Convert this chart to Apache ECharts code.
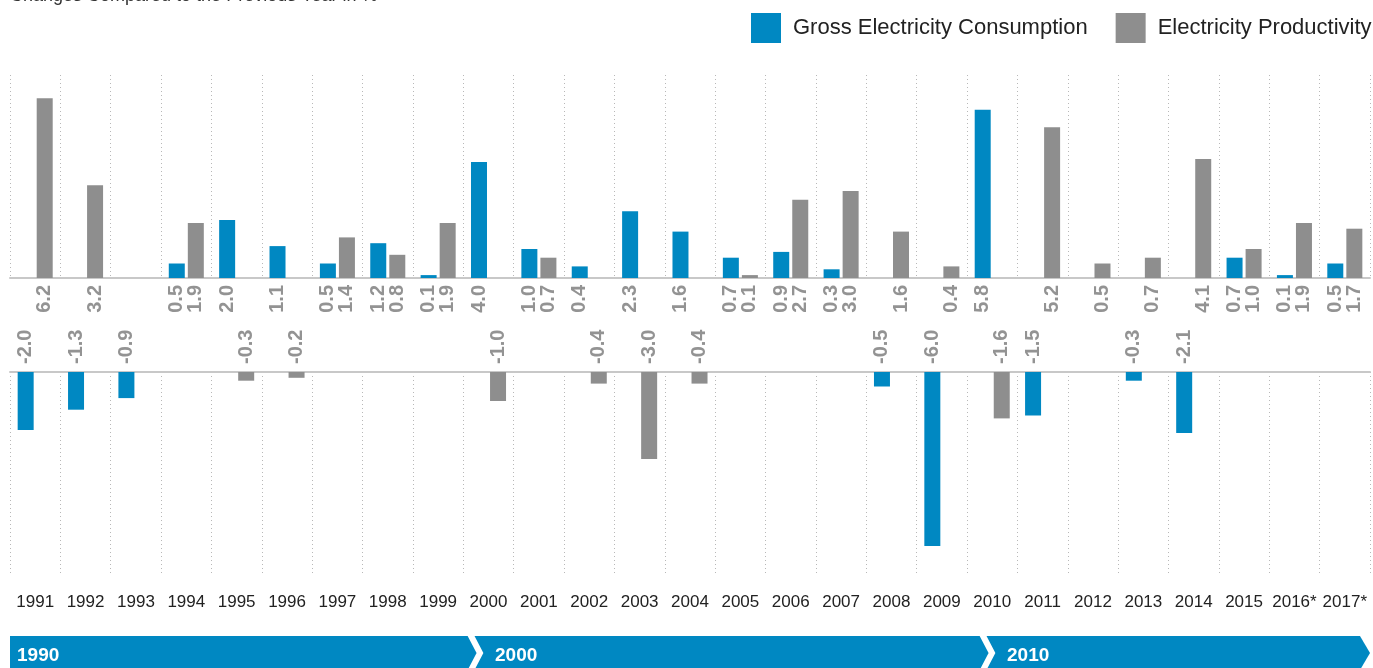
<!DOCTYPE html>
<html>
<head>
<meta charset="utf-8">
<title>Electricity Consumption and Productivity</title>
<script src="https://cdn.jsdelivr.net/npm/echarts@6/dist/echarts.min.js"></script>
<style>
  html, body { margin: 0; padding: 0; background: #fff; }
  #chart { width: 1373px; height: 668px; }
</style>
</head>
<body>
<div id="chart"></div>
<script>
// Year-on-year change in %, per year
const years = ['1991', '1992', '1993', '1994', '1995', '1996', '1997', '1998', '1999', '2000',
  '2001', '2002', '2003', '2004', '2005', '2006', '2007', '2008', '2009', '2010',
  '2011', '2012', '2013', '2014', '2015', '2016*', '2017*'];
const consumption = [-2.0, -1.3, -0.9, 0.5, 2.0, 1.1, 0.5, 1.2, 0.1, 4.0,
  1.0, 0.4, 2.3, 1.6, 0.7, 0.9, 0.3, -0.5, -6.0, 5.8,
  -1.5, null, -0.3, -2.1, 0.7, 0.1, 0.5];
const productivity = [6.2, 3.2, null, 1.9, -0.3, -0.2, 1.4, 0.8, 1.9, -1.0,
  0.7, -0.4, -3.0, -0.4, 0.1, 2.7, 3.0, 1.6, 0.4, -1.6,
  5.2, 0.5, 0.7, 4.1, 1.0, 1.9, 1.7];
const decades = ['1990', '2000', '2010'];
const titleText = 'Changes Compared to the Previous Year in %';
const seriesNames = ['Gross Electricity Consumption', 'Electricity Productivity'];

const BLUE = '#0088c2';
const GREY = '#8e8e8e';
const LABEL_GREY = '#939393';
const FONT = "'Liberation Sans', Arial, Helvetica, sans-serif";

const positives = arr => arr.map(v => (v != null && v > 0 ? v : null));
const negatives = arr => arr.map(v => (v != null && v < 0 ? v : null));

const valueLabel = (position, distance, align) => ({
  show: true,
  position: position,
  distance: distance,
  rotate: 90,
  align: align,
  verticalAlign: 'middle',
  color: LABEL_GREY,
  fontFamily: FONT,
  fontWeight: 'bold',
  fontSize: 20,
  formatter: p => Number(p.value).toFixed(1)
});

const dotted = { show: true, lineStyle: { color: '#b8b8b8', type: [1, 3], width: 1 } };
const baseLine = { show: true, lineStyle: { color: '#c8c8c8', width: 2 } };

function barSeries(name, color, data, xIdx, yIdx, label) {
  return {
    name: name,
    type: 'bar',
    xAxisIndex: xIdx,
    yAxisIndex: yIdx,
    data: data,
    barWidth: 16,
    barGap: '19%',
    itemStyle: { color: color },
    label: label,
    emphasis: { disabled: true },
    animation: false
  };
}

const chart = echarts.init(document.getElementById('chart'), null, { renderer: 'canvas' });

const option = {
  animation: false,
  title: {
    text: titleText,
    left: 10,
    top: -13,
    padding: 0,
    textStyle: { fontFamily: FONT, fontSize: 18, fontWeight: 'normal', color: '#333' }
  },
  legend: {
    data: seriesNames,
    left: 751,
    top: 13,
    padding: 0,
    itemWidth: 30,
    itemHeight: 30,
    itemGap: 28,
    icon: 'rect',
    selectedMode: false,
    textStyle: { fontFamily: FONT, fontSize: 22, color: '#222', padding: [4, 0, 0, 7] }
  },
  grid: [
    { left: 10, right: 3, top: 75, height: 203 },
    { left: 10, right: 3, top: 372, height: 203 }
  ],
  xAxis: [
    {
      type: 'category', gridIndex: 0, data: years, position: 'bottom',
      axisLine: baseLine, axisTick: { show: false }, axisLabel: { show: false },
      splitLine: dotted
    },
    {
      type: 'category', gridIndex: 1, data: years, position: 'top',
      axisLine: baseLine, axisTick: { show: false }, axisLabel: { show: false },
      splitLine: dotted
    },
    {
      type: 'category', gridIndex: 1, data: years, position: 'bottom',
      axisLine: { show: false, onZero: false }, axisTick: { show: false },
      axisLabel: { show: true, interval: 0, margin: 19, color: '#222', fontFamily: FONT, fontSize: 17 },
      splitLine: { show: false }
    }
  ],
  yAxis: [
    { type: 'value', gridIndex: 0, min: 0, max: 7, show: false, splitLine: { show: false } },
    { type: 'value', gridIndex: 1, min: -7, max: 0, show: false, splitLine: { show: false } }
  ],
  series: [
    barSeries(seriesNames[0], BLUE, positives(consumption), 0, 0, valueLabel('bottom', 7, 'right')),
    barSeries(seriesNames[1], GREY, positives(productivity), 0, 0, valueLabel('bottom', 7, 'right')),
    barSeries(seriesNames[0], BLUE, negatives(consumption), 1, 1, valueLabel('top', 8, 'left')),
    barSeries(seriesNames[1], GREY, negatives(productivity), 1, 1, valueLabel('top', 8, 'left'))
  ],
  graphic: [
    // decade timeline band
    {
      type: 'polygon', silent: true,
      shape: { points: [[10, 636], [1360, 636], [1370, 653], [1360, 670], [10, 670]] },
      style: { fill: BLUE }
    },
    {
      type: 'polyline', silent: true,
      shape: { points: [[469, 632], [480, 653], [469, 674]] },
      style: { stroke: '#fff', lineWidth: 6, fill: null }
    },
    {
      type: 'polyline', silent: true,
      shape: { points: [[981, 632], [992, 653], [981, 674]] },
      style: { stroke: '#fff', lineWidth: 6, fill: null }
    },
    {
      type: 'text', silent: true, left: 17, top: 646,
      style: { text: decades[0], fill: '#fff', font: 'bold 19px ' + FONT }
    },
    {
      type: 'text', silent: true, left: 495, top: 646,
      style: { text: decades[1], fill: '#fff', font: 'bold 19px ' + FONT }
    },
    {
      type: 'text', silent: true, left: 1007, top: 646,
      style: { text: decades[2], fill: '#fff', font: 'bold 19px ' + FONT }
    }
  ]
};

chart.setOption(option);
</script>
</body>
</html>
